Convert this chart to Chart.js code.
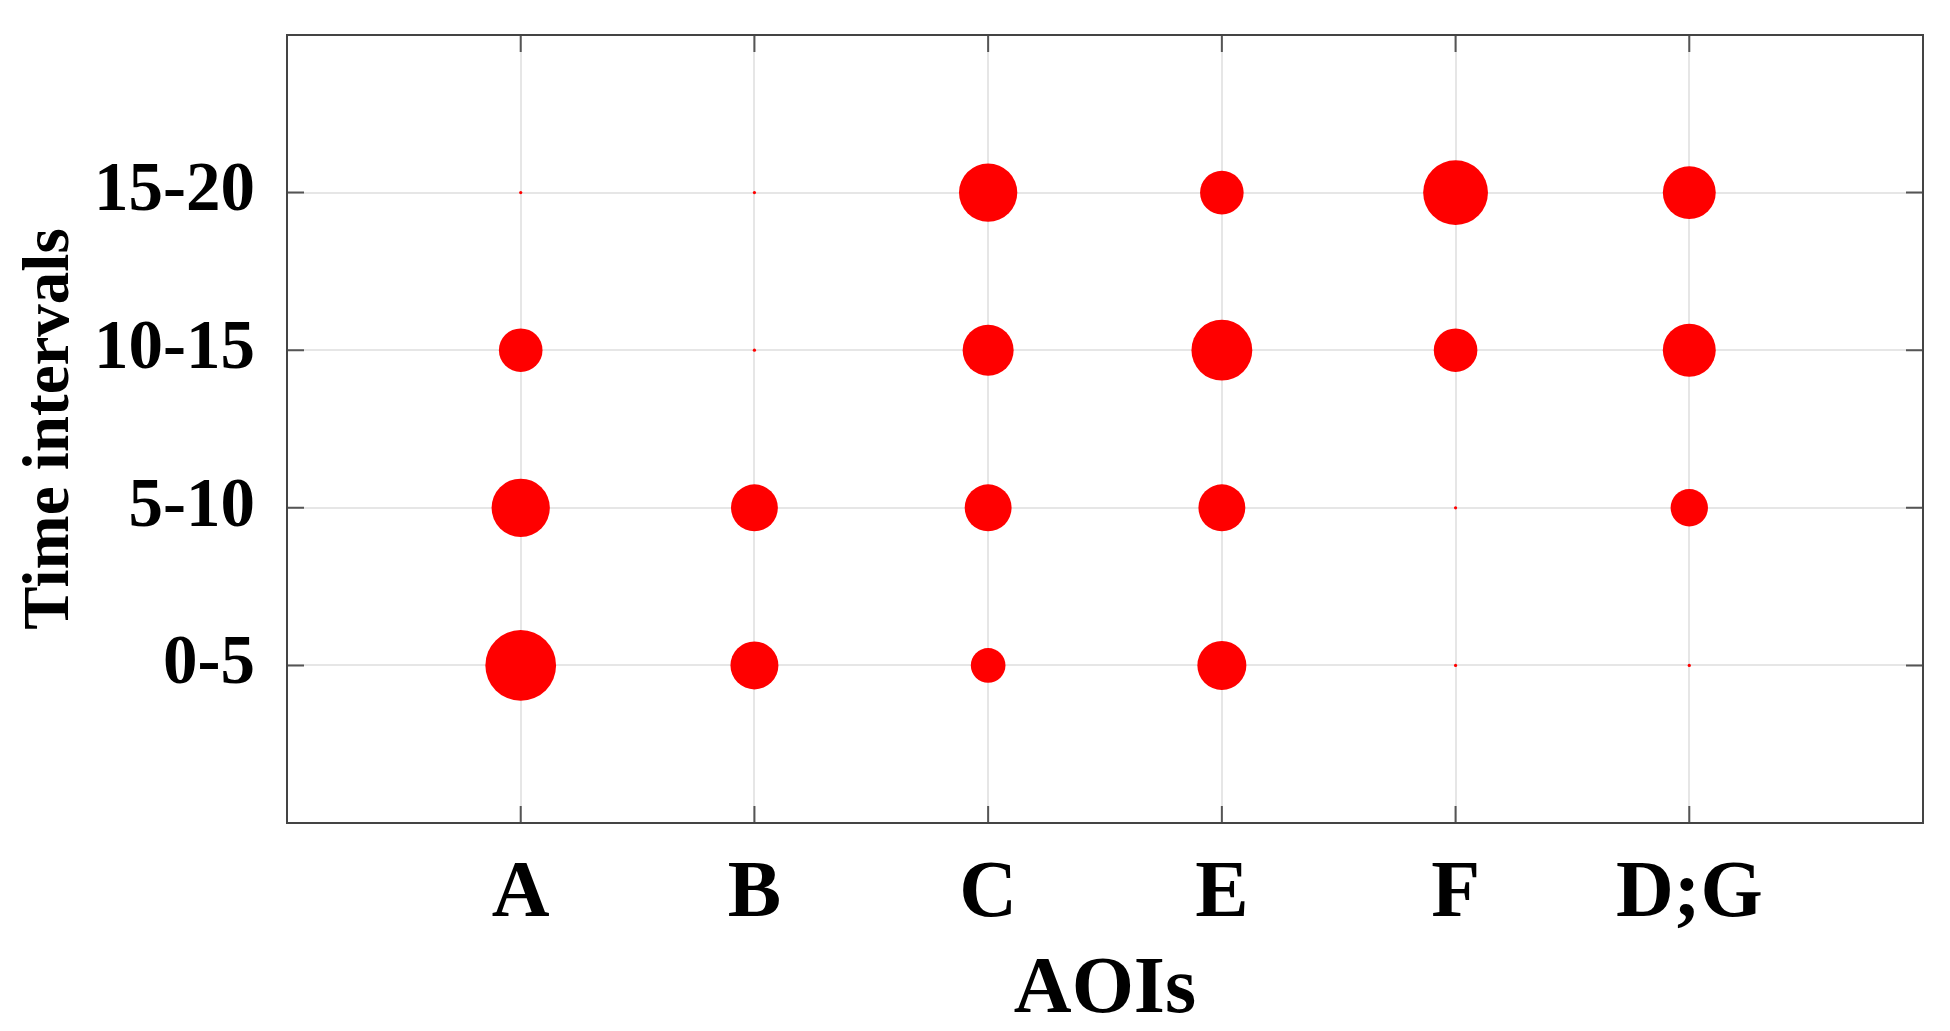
<!DOCTYPE html>
<html>
<head>
<meta charset="utf-8">
<script src="https://cdn.jsdelivr.net/npm/chart.js@4/dist/chart.umd.min.js"></script>
<style>
html,body{margin:0;padding:0;background:#fff;}
canvas{display:block;}
</style>
</head>
<body>
<canvas id="c" width="1950" height="1031"></canvas>
<script>
const aois = ['A', 'B', 'C', 'E', 'F', 'D;G'];
const intervals = ['0-5', '5-10', '10-15', '15-20'];
// estimated fixation values per interval (bubble area ~ value)
const v0_5   = [50, 23, 12, 24, 0, 0];
const v5_10  = [34, 22, 22, 22, 0, 14];
const v10_15 = [19, 0, 26, 37, 19, 28];
const v15_20 = [0, 0, 34, 19, 42, 28];
const seriesValues = [v0_5, v5_10, v10_15, v15_20];

const sizeOf = v => v > 0 ? 5 * Math.sqrt(v) : 1.6;

const datasets = seriesValues.map((vals, row) => ({
  label: intervals[row],
  data: aois.map((a, i) => ({x: i + 1, y: row + 1})),
  backgroundColor: '#ff0000',
  borderWidth: 0,
  radius: ctx => sizeOf(vals[ctx.dataIndex]),
  hoverRadius: 0
}));

const boxPlugin = {
  id: 'box',
  afterDraw(chart) {
    const {ctx, chartArea: a, scales} = chart;
    ctx.save();
    ctx.strokeStyle = '#555';
    ctx.lineWidth = 2;
    const tl = 17;
    ctx.beginPath();
    scales.x.ticks.forEach(t => {
      const px = scales.x.getPixelForValue(t.value);
      ctx.moveTo(px, a.bottom); ctx.lineTo(px, a.bottom - tl);
      ctx.moveTo(px, a.top); ctx.lineTo(px, a.top + tl);
    });
    scales.y.ticks.forEach(t => {
      const py = scales.y.getPixelForValue(t.value);
      ctx.moveTo(a.left, py); ctx.lineTo(a.left + tl, py);
      ctx.moveTo(a.right, py); ctx.lineTo(a.right - tl, py);
    });
    ctx.stroke();
    ctx.strokeStyle = '#444';
    ctx.strokeRect(a.left, a.top, a.right - a.left, a.bottom - a.top);
    ctx.restore();
  }
};

new Chart(document.getElementById('c'), {
  type: 'bubble',
  data: {datasets},
  options: {
    responsive: false,
    animation: false,
    events: [],
    layout: {autoPadding: false, padding: {top: 35, right: 27, left: 0, bottom: 0}},
    plugins: {legend: {display: false}, tooltip: {enabled: false}},
    scales: {
      x: {
        type: 'linear', min: 0, max: 7,
        afterBuildTicks: s => { s.ticks = aois.map((a, i) => ({value: i + 1})); },
        afterFit: s => { s.height = 208; s.paddingLeft = 0; s.paddingRight = 0; },
        grid: {color: '#e6e6e6', lineWidth: 2, drawTicks: false},
        border: {display: false},
        ticks: {
          padding: 24,
          color: '#000',
          font: {family: 'Liberation Serif', size: 80, weight: 'bold'},
          callback: v => aois[v - 1],
          maxRotation: 0
        },
        title: {
          display: true, text: 'AOIs', color: '#000', padding: {top: 0, bottom: 0},
          font: {family: 'Liberation Serif', size: 80, weight: 'bold', lineHeight: 1.0}
        }
      },
      y: {
        type: 'linear', min: 0, max: 5,
        afterBuildTicks: s => { s.ticks = intervals.map((a, i) => ({value: i + 1})); },
        afterFit: s => { s.width = 287; s.paddingTop = 0; s.paddingBottom = 0; },
        grid: {color: '#e6e6e6', lineWidth: 2, drawTicks: false},
        border: {display: false},
        ticks: {
          padding: 32,
          color: '#000',
          font: {family: 'Liberation Serif', size: 69, weight: 'bold'},
          callback: v => intervals[v - 1]
        },
        title: {
          display: true, text: 'Time intervals', color: '#000', padding: {top: 12, bottom: 0},
          font: {family: 'Liberation Serif', size: 65, weight: 'bold'}
        }
      }
    }
  },
  plugins: [boxPlugin]
});
</script>
</body>
</html>
